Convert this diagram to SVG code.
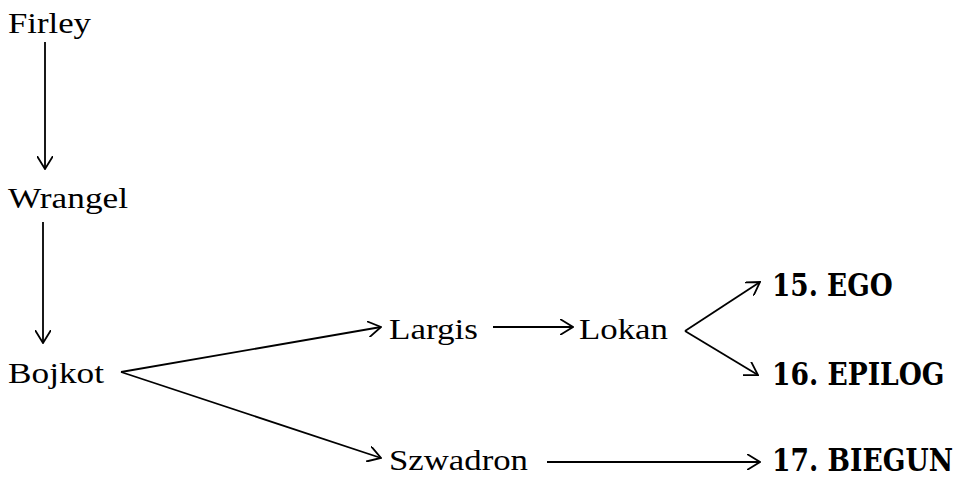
<svg xmlns="http://www.w3.org/2000/svg" width="960" height="478" viewBox="0 0 960 478">
<defs>
<style>
.t{font-family:"Liberation Serif","Times New Roman",serif;font-size:30px;fill:#000}
.b{font-family:"DejaVu Serif","Liberation Serif",serif;font-size:32px;font-weight:bold;fill:#000}
.c line{stroke:#000;stroke-width:1.8;fill:none;marker-end:url(#ah)}
</style>
<marker id="ah" viewBox="0 0 14 16" refX="13" refY="8" markerWidth="14" markerHeight="16" markerUnits="userSpaceOnUse" orient="auto">
<path d="M0,0 L13,8 L0,16" fill="none" stroke="#000" stroke-width="1.8"/>
</marker>
</defs>
<rect width="960" height="478" fill="#fff"/>
<g class="c" id="connectors">
<line x1="45" y1="42" x2="45" y2="169"/>
<line x1="43" y1="222" x2="43" y2="343"/>
<line x1="121" y1="372" x2="381" y2="327"/>
<line x1="121" y1="372" x2="381" y2="458"/>
<line x1="493" y1="327" x2="573" y2="327"/>
<line x1="685" y1="331" x2="760" y2="282"/>
<line x1="685" y1="331" x2="758" y2="375"/>
<line x1="547" y1="462" x2="760" y2="462"/>
</g>
<g id="firley"><text class="t" x="8" y="33" textLength="83" lengthAdjust="spacingAndGlyphs">Firley</text></g>
<g id="wrangel"><text class="t" x="8" y="208" textLength="120" lengthAdjust="spacingAndGlyphs">Wrangel</text></g>
<g id="bojkot"><text class="t" x="8" y="383" textLength="96" lengthAdjust="spacingAndGlyphs">Bojkot</text></g>
<g id="largis"><text class="t" x="389" y="339" textLength="89" lengthAdjust="spacingAndGlyphs">Largis</text></g>
<g id="lokan"><text class="t" x="579" y="339" textLength="89" lengthAdjust="spacingAndGlyphs">Lokan</text></g>
<g id="szwadron"><text class="t" x="389" y="470" textLength="139" lengthAdjust="spacingAndGlyphs">Szwadron</text></g>
<g id="ego" transform="translate(772,296) scale(0.85,1)"><text class="b" x="0" y="0" textLength="142" lengthAdjust="spacingAndGlyphs">15. EGO</text></g>
<g id="epilog" transform="translate(772,385) scale(0.85,1)"><text class="b" x="0" y="0" textLength="203" lengthAdjust="spacingAndGlyphs">16. EPILOG</text></g>
<g id="biegun" transform="translate(772,471) scale(0.85,1)"><text class="b" x="0" y="0" textLength="213" lengthAdjust="spacingAndGlyphs">17. BIEGUN</text></g>
</svg>
